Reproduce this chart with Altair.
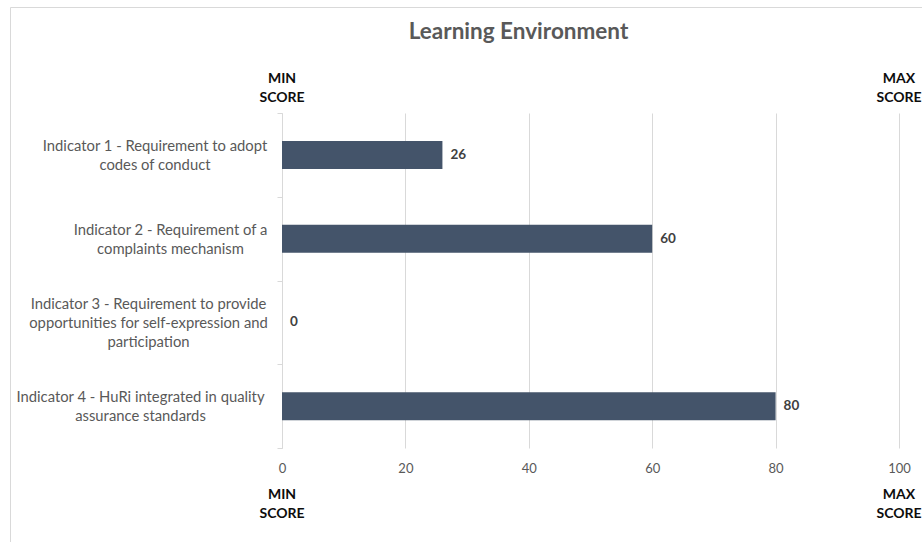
import altair as alt
import pandas as pd

# ---- data ----
categories = [
    "Indicator 1 - Requirement to adopt\ncodes of conduct",
    "Indicator 2 - Requirement of a\ncomplaints mechanism",
    "Indicator 3 - Requirement to provide\nopportunities for self-expression and\nparticipation",
    "Indicator 4 - HuRi integrated in quality\nassurance standards",
]
scores = [26, 60, 0, 80]
x_ticks = [0, 20, 40, 60, 80, 100]
bound_values = [0, 100]
bound_labels = ["MIN\nSCORE", "MAX\nSCORE"]
title_text = "Learning Environment"

df = pd.DataFrame({"category": categories, "score": scores})
bounds = pd.DataFrame({"pos": bound_values, "label": bound_labels})
frame = pd.DataFrame({"k": [0]})

FONT = "Lato"
GRID = "#d9d9d9"
TXT = "#595959"
LINE_H = 19

# horizontal centre (px, left of the axis) of each wrapped category label block
label_centre_expr = (
    "indexof(datum.category, 'Indicator 1') === 0 ? -127 : "
    "indexof(datum.category, 'Indicator 2') === 0 ? -111.5 : "
    "indexof(datum.category, 'Indicator 3') === 0 ? -133.5 : -141.5"
)
n_lines_expr = "length(split(datum.category, '\\n'))"

xscale = alt.Scale(domain=[0, 100], nice=False)

bars = alt.Chart(df).mark_bar(size=28, color="#44546A").encode(
    x=alt.X(
        "score:Q",
        scale=xscale,
        title=None,
        axis=alt.Axis(
            values=x_ticks,
            domain=False,
            ticks=False,
            grid=True,
            gridColor=GRID,
            gridWidth=1,
            labelFont=FONT,
            labelFontSize=13,
            labelColor=TXT,
            labelPadding=14,
            labelFlush=False,
        ),
    ),
    y=alt.Y(
        "category:N",
        title=None,
        scale=alt.Scale(paddingInner=0, paddingOuter=0),
        axis=alt.Axis(
            domain=True,
            domainColor=GRID,
            ticks=True,
            tickColor=GRID,
            tickSize=5,
            tickBand="extent",
            grid=False,
            labels=False,
        ),
    ),
)


def cat_label_layer(n_lines):
    return alt.Chart(df).transform_calculate(
        label_x=label_centre_expr, n_lines=n_lines_expr
    ).transform_filter(
        alt.datum.n_lines == n_lines
    ).mark_text(
        align="center", baseline="middle", font=FONT, fontSize=14.8,
        color=TXT, lineBreak="\n", lineHeight=LINE_H,
        dy=-(n_lines - 1) * LINE_H / 2 + 1.5,
    ).encode(
        x=alt.X("label_x:Q", scale=None, axis=None),
        y=alt.Y("category:N"),
        text="category:N",
    )


cat_labels2 = cat_label_layer(2)
cat_labels3 = cat_label_layer(3)

values = alt.Chart(df).mark_text(
    align="left", baseline="middle", dx=8, font=FONT, fontSize=13.5,
    fontWeight="bold", color="#404040",
).encode(
    x=alt.X("score:Q", scale=xscale),
    y=alt.Y("category:N"),
    text=alt.Text("score:Q"),
)

top_bounds = alt.Chart(bounds).mark_text(
    align="center", baseline="middle", font=FONT, fontSize=14,
    fontWeight="bold", color="#0d0d0d", lineBreak="\n", lineHeight=LINE_H,
).encode(
    x=alt.X("pos:Q", scale=xscale),
    y=alt.value(-33.7),
    text="label:N",
)

bottom_bounds = alt.Chart(bounds).mark_text(
    align="center", baseline="middle", font=FONT, fontSize=14,
    fontWeight="bold", color="#0d0d0d", lineBreak="\n", lineHeight=LINE_H,
).encode(
    x=alt.X("pos:Q", scale=xscale),
    y=alt.value(381.5),
    text="label:N",
)

border = alt.Chart(frame).mark_rect(
    fill="transparent", stroke=GRID, strokeWidth=1
).encode(
    x=alt.value(-271.5), x2=alt.value(900), y=alt.value(-105.5), y2=alt.value(480)
)

chart = alt.layer(
    border, bars, cat_labels2, cat_labels3, values, top_bounds, bottom_bounds
).properties(
    width=617,
    height=335,
    autosize=alt.AutoSizeParams(type="none"),
    padding={"left": 282, "top": 113, "right": 23, "bottom": 94},
    view=alt.ViewBackground(stroke="transparent", strokeWidth=0),
    title=alt.Title(
        title_text,
        font=FONT,
        fontSize=22.5,
        fontWeight="bold",
        color=TXT,
        anchor="middle",
        frame="group",
        dx=-72,
        offset=-54,
        baseline="alphabetic",
    ),
).configure_view(stroke="transparent", strokeWidth=0).configure(background="white")

chart.save("out.html", embed_options={"renderer": "svg", "actions": False})
